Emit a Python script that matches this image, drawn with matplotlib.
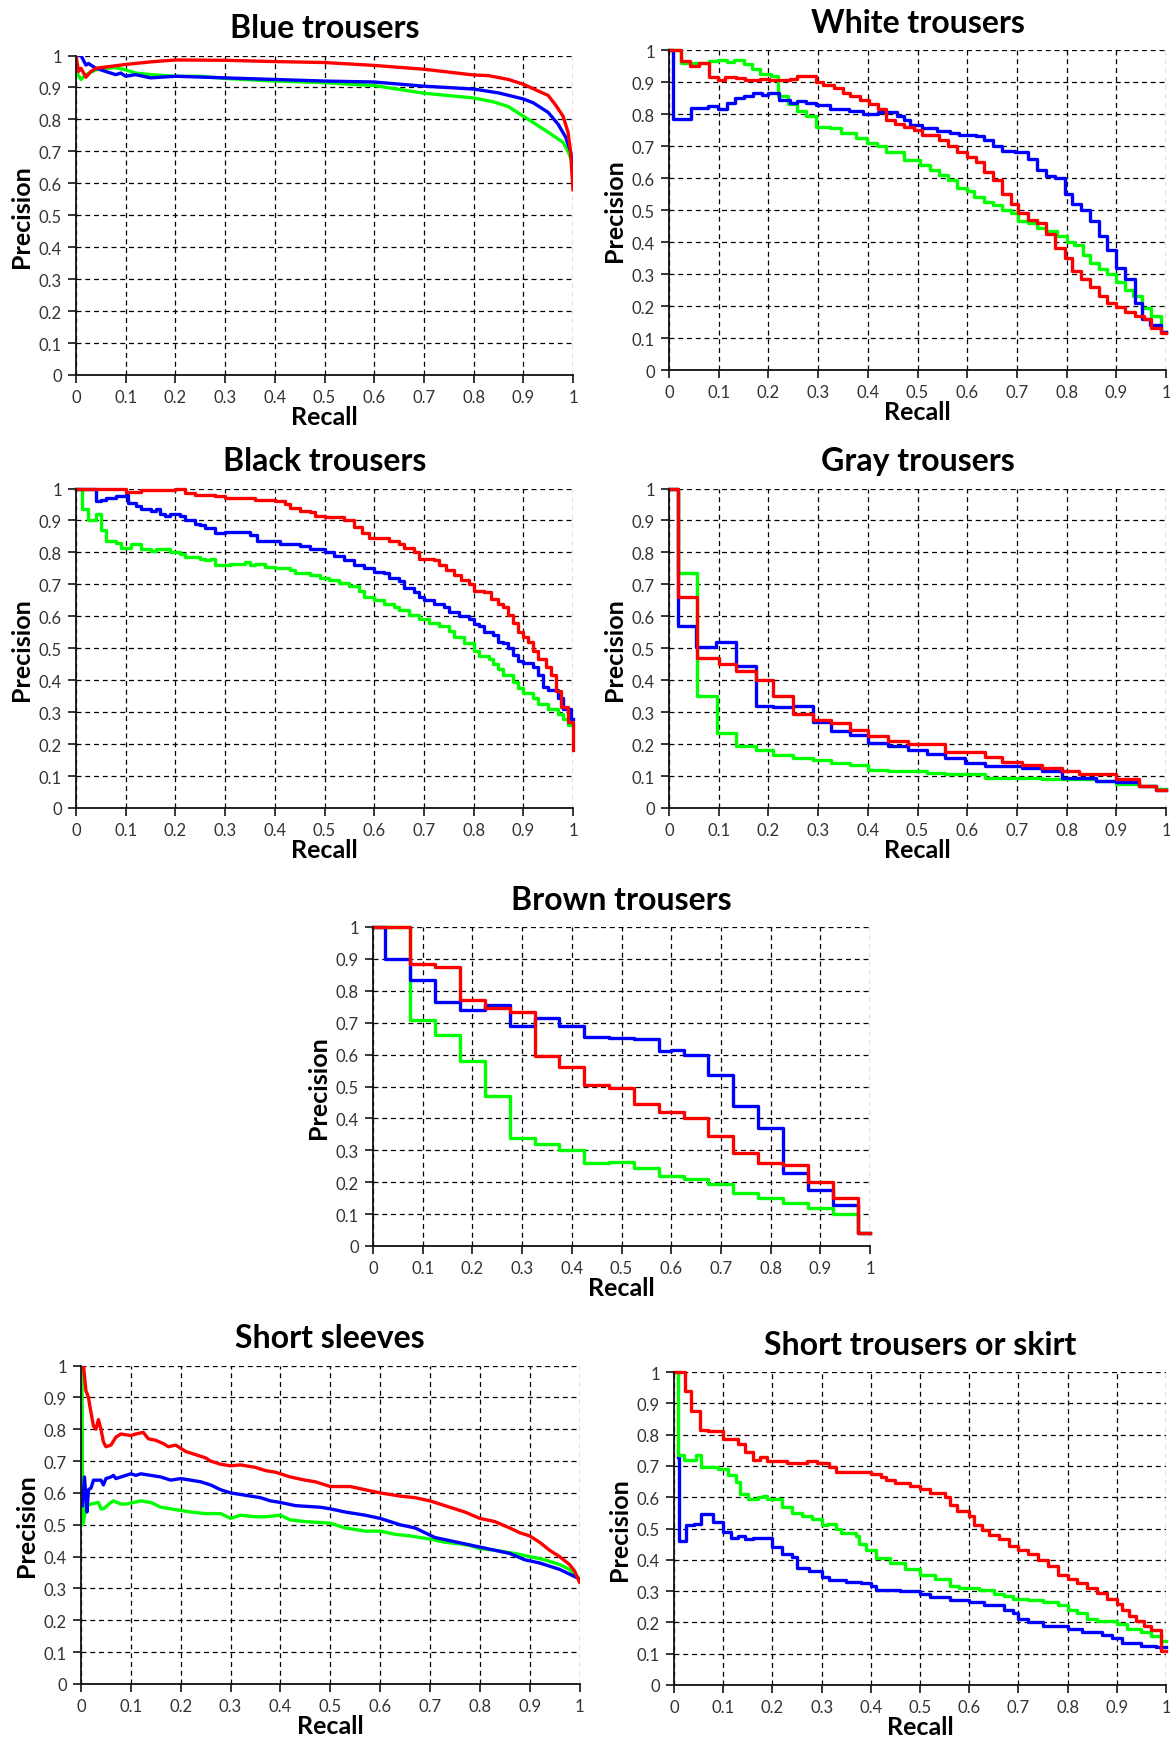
import numpy as np
import matplotlib
matplotlib.use("Agg")
import matplotlib.pyplot as plt

plt.rcParams['font.family'] = ['Lato', 'DejaVu Sans']

titles = ["Blue trousers", "White trousers", "Black trousers", "Gray trousers",
          "Brown trousers", "Short sleeves", "Short trousers or skirt"]
tick_vals = [0, 0.1, 0.2, 0.3, 0.4, 0.5, 0.6, 0.7, 0.8, 0.9, 1]
tick_labels = ["0", "0.1", "0.2", "0.3", "0.4", "0.5", "0.6", "0.7", "0.8", "0.9", "1"]

# ---------------- Blue trousers (smooth lines) ----------------
blue_tr_blue_x = [0, 0.01, 0.02, 0.025, 0.04, 0.06, 0.08, 0.09, 0.1, 0.12, 0.15, 0.2, 0.3, 0.4, 0.5, 0.6,
                  0.7, 0.8, 0.85, 0.9, 0.92, 0.95, 0.97, 0.985, 0.995, 1.0]
blue_tr_blue_y = [1.0, 1.0, 0.97, 0.975, 0.96, 0.95, 0.94, 0.945, 0.935, 0.94, 0.93, 0.935, 0.93, 0.925, 0.92, 0.917,
                  0.904, 0.895, 0.883, 0.864, 0.852, 0.822, 0.785, 0.745, 0.70, 0.65]
blue_tr_green_x = [0, 0.01, 0.02, 0.04, 0.06, 0.08, 0.1, 0.12, 0.15, 0.2, 0.25, 0.3, 0.4, 0.5, 0.6,
                   0.7, 0.8, 0.84, 0.87, 0.9, 0.93, 0.95, 0.98, 0.99, 1.0]
blue_tr_green_y = [0.95, 0.925, 0.94, 0.955, 0.96, 0.962, 0.955, 0.945, 0.94, 0.935, 0.935, 0.928, 0.92, 0.915, 0.906,
                   0.882, 0.867, 0.855, 0.84, 0.81, 0.78, 0.76, 0.728, 0.70, 0.66]
blue_tr_red_x = [0, 0.005, 0.01, 0.02, 0.03, 0.04, 0.1, 0.15, 0.2, 0.3, 0.4, 0.5, 0.6, 0.7, 0.8, 0.83,
                 0.87, 0.9, 0.94, 0.95, 0.965, 0.98, 0.99, 0.995, 1.0]
blue_tr_red_y = [1.0, 0.95, 0.96, 0.932, 0.95, 0.96, 0.972, 0.98, 0.986, 0.985, 0.981, 0.978, 0.969, 0.957, 0.939, 0.937,
                 0.925, 0.91, 0.882, 0.875, 0.845, 0.81, 0.76, 0.70, 0.58]

# ---------------- White trousers (steps) ----------------
white_blue_x = [0, 0.009, 0.044, 0.079, 0.098, 0.117, 0.133, 0.15, 0.169, 0.187, 0.2, 0.222, 0.243, 0.258, 0.276,
                0.295, 0.324, 0.362, 0.391, 0.421, 0.458, 0.473, 0.484, 0.51, 0.54, 0.566, 0.584, 0.618, 0.633,
                0.651, 0.67, 0.696, 0.722, 0.74, 0.759, 0.777, 0.796, 0.811, 0.829, 0.848, 0.866, 0.881, 0.9,
                0.918, 0.937, 0.952, 0.967, 0.989]
white_blue_y = [1.0, 0.785, 0.82, 0.825, 0.815, 0.835, 0.85, 0.855, 0.865, 0.86, 0.865, 0.845, 0.835, 0.84, 0.835,
                0.828, 0.815, 0.81, 0.80, 0.805, 0.795, 0.78, 0.765, 0.755, 0.748, 0.74, 0.735, 0.73, 0.72,
                0.70, 0.685, 0.68, 0.66, 0.625, 0.605, 0.60, 0.55, 0.52, 0.50, 0.465, 0.42, 0.375, 0.32,
                0.285, 0.21, 0.16, 0.14, 0.12]
white_green_x = [0, 0.024, 0.08, 0.098, 0.116, 0.131, 0.15, 0.168, 0.183, 0.206, 0.22, 0.239, 0.258, 0.276, 0.295,
                 0.324, 0.347, 0.376, 0.399, 0.418, 0.436, 0.473, 0.506, 0.525, 0.543, 0.562, 0.58, 0.599, 0.614,
                 0.633, 0.651, 0.67, 0.688, 0.703, 0.722, 0.74, 0.759, 0.781, 0.8, 0.814, 0.833, 0.848, 0.866,
                 0.881, 0.9, 0.918, 0.933, 0.952, 0.97, 0.989]
white_green_y = [1.0, 0.96, 0.965, 0.97, 0.963, 0.968, 0.955, 0.94, 0.925, 0.92, 0.855, 0.83, 0.81, 0.795, 0.76,
                 0.755, 0.74, 0.725, 0.71, 0.70, 0.68, 0.655, 0.64, 0.625, 0.61, 0.595, 0.57, 0.56, 0.54,
                 0.525, 0.515, 0.50, 0.49, 0.465, 0.46, 0.445, 0.435, 0.42, 0.40, 0.39, 0.36, 0.335, 0.315,
                 0.30, 0.275, 0.25, 0.23, 0.195, 0.17, 0.12]
white_red_x = [0, 0.024, 0.042, 0.061, 0.08, 0.098, 0.113, 0.135, 0.153, 0.183, 0.202, 0.243, 0.258, 0.295, 0.31,
               0.332, 0.35, 0.365, 0.384, 0.403, 0.421, 0.436, 0.454, 0.473, 0.492, 0.51, 0.543, 0.562, 0.58,
               0.599, 0.618, 0.633, 0.651, 0.67, 0.688, 0.703, 0.722, 0.74, 0.759, 0.777, 0.796, 0.811, 0.829,
               0.848, 0.866, 0.881, 0.9, 0.918, 0.937, 0.955, 0.97, 0.989]
white_red_y = [1.0, 0.965, 0.95, 0.96, 0.915, 0.905, 0.915, 0.912, 0.905, 0.91, 0.905, 0.91, 0.918, 0.90, 0.89,
               0.88, 0.865, 0.855, 0.845, 0.83, 0.815, 0.78, 0.77, 0.76, 0.75, 0.735, 0.72, 0.70, 0.68,
               0.665, 0.65, 0.62, 0.595, 0.55, 0.52, 0.49, 0.47, 0.46, 0.425, 0.38, 0.35, 0.31, 0.285,
               0.26, 0.23, 0.21, 0.198, 0.18, 0.17, 0.16, 0.13, 0.115]

# ---------------- Black trousers (steps) ----------------
black_red_x = [0, 0.1, 0.13, 0.2, 0.22, 0.24, 0.28, 0.3, 0.36, 0.4, 0.42, 0.43, 0.45, 0.47, 0.48, 0.5, 0.54, 0.56,
               0.575, 0.59, 0.63, 0.65, 0.66, 0.68, 0.69, 0.72, 0.73, 0.745, 0.76, 0.775, 0.79, 0.80, 0.82, 0.835,
               0.85, 0.86, 0.87, 0.88, 0.89, 0.9, 0.91, 0.92, 0.93, 0.945, 0.955, 0.965, 0.975, 0.99]
black_red_y = [1.0, 0.99, 0.995, 0.997, 0.985, 0.98, 0.975, 0.97, 0.965, 0.96, 0.95, 0.94, 0.93, 0.925, 0.915, 0.91,
               0.90, 0.88, 0.86, 0.845, 0.835, 0.825, 0.815, 0.80, 0.78, 0.775, 0.76, 0.745, 0.73, 0.715, 0.70,
               0.68, 0.675, 0.655, 0.64, 0.63, 0.605, 0.58, 0.55, 0.535, 0.52, 0.49, 0.465, 0.44, 0.415, 0.365,
               0.315, 0.27]
black_red_end = 0.18
black_blue_x = [0, 0.04, 0.05, 0.06, 0.08, 0.1, 0.105, 0.12, 0.13, 0.15, 0.16, 0.17, 0.18, 0.19, 0.21, 0.22, 0.24,
                0.25, 0.26, 0.28, 0.3, 0.33, 0.35, 0.365, 0.41, 0.45, 0.47, 0.5, 0.52, 0.54, 0.56, 0.58, 0.6,
                0.62, 0.63, 0.65, 0.66, 0.68, 0.69, 0.7, 0.72, 0.74, 0.75, 0.77, 0.79, 0.8, 0.81, 0.82, 0.84,
                0.85, 0.86, 0.87, 0.88, 0.89, 0.9, 0.92, 0.93, 0.94, 0.95, 0.97, 0.98, 0.995]
black_blue_y = [1.0, 0.96, 0.965, 0.97, 0.975, 0.98, 0.955, 0.945, 0.935, 0.93, 0.935, 0.92, 0.915, 0.92, 0.915, 0.90,
                0.89, 0.885, 0.875, 0.86, 0.865, 0.865, 0.855, 0.835, 0.825, 0.82, 0.81, 0.80, 0.79, 0.775,
                0.76, 0.75, 0.74, 0.735, 0.72, 0.71, 0.69, 0.675, 0.66, 0.65, 0.64, 0.63, 0.615, 0.60, 0.59,
                0.575, 0.57, 0.55, 0.54, 0.52, 0.515, 0.50, 0.48, 0.46, 0.455, 0.44, 0.415, 0.38, 0.37, 0.345,
                0.31, 0.28]
black_green_x = [0, 0.012, 0.025, 0.04, 0.05, 0.06, 0.08, 0.09, 0.11, 0.13, 0.15, 0.16, 0.19, 0.21, 0.22, 0.25,
                 0.26, 0.27, 0.28, 0.31, 0.34, 0.35, 0.36, 0.38, 0.4, 0.43, 0.44, 0.47, 0.49, 0.51, 0.53, 0.55,
                 0.57, 0.58, 0.6, 0.62, 0.64, 0.65, 0.67, 0.69, 0.71, 0.73, 0.75, 0.76, 0.78, 0.8, 0.81, 0.83,
                 0.84, 0.85, 0.86, 0.88, 0.89, 0.9, 0.92, 0.93, 0.95, 0.97, 0.98, 0.99]
black_green_y = [1.0, 0.935, 0.90, 0.92, 0.87, 0.835, 0.83, 0.815, 0.825, 0.81, 0.805, 0.81, 0.80, 0.795, 0.785,
                 0.78, 0.775, 0.78, 0.76, 0.765, 0.77, 0.76, 0.765, 0.755, 0.75, 0.745, 0.735, 0.73, 0.72, 0.715,
                 0.705, 0.695, 0.68, 0.66, 0.65, 0.64, 0.63, 0.62, 0.605, 0.59, 0.58, 0.57, 0.555, 0.535, 0.515,
                 0.49, 0.475, 0.465, 0.45, 0.435, 0.415, 0.395, 0.375, 0.36, 0.345, 0.325, 0.31, 0.295, 0.28, 0.26]

# ---------------- Gray trousers (steps) ----------------
gray_red_x = [0, 0.018, 0.057, 0.1, 0.135, 0.175, 0.21, 0.25, 0.29, 0.325, 0.365, 0.40, 0.44, 0.48, 0.555, 0.635,
              0.67, 0.71, 0.75, 0.79, 0.825, 0.90, 0.945, 0.98]
gray_red_y = [1.0, 0.66, 0.47, 0.45, 0.43, 0.40, 0.35, 0.295, 0.275, 0.265, 0.245, 0.225, 0.21, 0.20, 0.175, 0.16,
              0.145, 0.135, 0.125, 0.115, 0.105, 0.09, 0.07, 0.055]
gray_blue_x = [0, 0.018, 0.055, 0.095, 0.135, 0.175, 0.21, 0.25, 0.29, 0.325, 0.365, 0.40, 0.44, 0.48, 0.52, 0.555,
               0.595, 0.635, 0.71, 0.75, 0.79, 0.86, 0.90, 0.945, 0.98]
gray_blue_y = [1.0, 0.57, 0.505, 0.52, 0.445, 0.32, 0.315, 0.32, 0.27, 0.24, 0.23, 0.205, 0.195, 0.18, 0.17, 0.155,
               0.14, 0.13, 0.125, 0.115, 0.095, 0.085, 0.08, 0.07, 0.055]
gray_green_x = [0, 0.018, 0.057, 0.097, 0.135, 0.175, 0.21, 0.25, 0.29, 0.325, 0.365, 0.40, 0.44, 0.52, 0.555,
                0.635, 0.75, 0.86, 0.90, 0.945, 0.98]
gray_green_y = [1.0, 0.735, 0.35, 0.235, 0.195, 0.18, 0.165, 0.155, 0.15, 0.14, 0.135, 0.12, 0.115, 0.11, 0.105,
                0.095, 0.09, 0.085, 0.075, 0.07, 0.06]

# ---------------- Brown trousers (steps) ----------------
brown_blue_x = [0, 0.025, 0.075, 0.125, 0.175, 0.225, 0.275, 0.325, 0.375, 0.425, 0.475, 0.525, 0.575, 0.6, 0.625,
                0.675, 0.725, 0.775, 0.825, 0.875, 0.925, 0.975]
brown_blue_y = [1.0, 0.90, 0.835, 0.765, 0.74, 0.755, 0.69, 0.715, 0.69, 0.655, 0.652, 0.65, 0.61, 0.615, 0.60,
                0.535, 0.44, 0.37, 0.23, 0.175, 0.13, 0.04]
brown_red_x = [0, 0.075, 0.125, 0.175, 0.225, 0.275, 0.325, 0.375, 0.425, 0.475, 0.525, 0.575, 0.625, 0.675, 0.725,
               0.775, 0.825, 0.875, 0.925, 0.975]
brown_red_y = [1.0, 0.885, 0.875, 0.77, 0.745, 0.735, 0.595, 0.56, 0.505, 0.495, 0.445, 0.42, 0.40, 0.345, 0.29,
               0.26, 0.255, 0.20, 0.15, 0.04]
brown_green_x = [0, 0.075, 0.125, 0.175, 0.225, 0.275, 0.325, 0.375, 0.425, 0.475, 0.525, 0.575, 0.625, 0.675,
                 0.725, 0.775, 0.825, 0.875, 0.925, 0.975]
brown_green_y = [1.0, 0.71, 0.66, 0.58, 0.47, 0.34, 0.32, 0.30, 0.26, 0.262, 0.245, 0.22, 0.21, 0.195, 0.165, 0.15,
                 0.135, 0.12, 0.10, 0.04]

# ---------------- Short sleeves (smooth lines) ----------------
sleeves_red_x = [0.005, 0.008, 0.01, 0.015, 0.018, 0.025, 0.03, 0.035, 0.04, 0.045, 0.05, 0.06, 0.07, 0.08, 0.1,
                 0.11, 0.125, 0.135, 0.15, 0.165, 0.175, 0.19, 0.2, 0.21, 0.23, 0.25, 0.26, 0.28, 0.3, 0.32, 0.35,
                 0.37, 0.39, 0.4, 0.42, 0.45, 0.47, 0.5, 0.54, 0.57, 0.6, 0.62, 0.64, 0.67, 0.7, 0.72, 0.74, 0.77,
                 0.8, 0.83, 0.86, 0.88, 0.9, 0.92, 0.94, 0.96, 0.98, 0.99, 1.0]
sleeves_red_y = [1.0, 0.95, 0.92, 0.9, 0.87, 0.81, 0.80, 0.83, 0.80, 0.76, 0.745, 0.75, 0.775, 0.785, 0.78,
                 0.785, 0.79, 0.77, 0.765, 0.755, 0.745, 0.75, 0.74, 0.73, 0.72, 0.71, 0.70, 0.69, 0.685, 0.688, 0.68,
                 0.67, 0.665, 0.66, 0.65, 0.64, 0.635, 0.62, 0.62, 0.61, 0.60, 0.595, 0.59, 0.585, 0.575, 0.565,
                 0.555, 0.54, 0.52, 0.51, 0.49, 0.475, 0.465, 0.445, 0.42, 0.40, 0.375, 0.355, 0.32]
sleeves_blue_x = [0.003, 0.007, 0.012, 0.015, 0.02, 0.025, 0.04, 0.045, 0.05, 0.06, 0.065, 0.07, 0.08, 0.1, 0.11,
                  0.12, 0.14, 0.16, 0.18, 0.2, 0.22, 0.24, 0.26, 0.28, 0.3, 0.32, 0.36, 0.38, 0.4, 0.43, 0.48,
                  0.5, 0.53, 0.57, 0.6, 0.62, 0.64, 0.67, 0.69, 0.71, 0.74, 0.77, 0.8, 0.83, 0.86, 0.89, 0.92,
                  0.94, 0.96, 0.98, 1.0]
sleeves_blue_y = [0.56, 0.65, 0.54, 0.61, 0.615, 0.64, 0.64, 0.625, 0.645, 0.65, 0.655, 0.645, 0.65, 0.66, 0.655,
                  0.66, 0.655, 0.65, 0.64, 0.645, 0.64, 0.635, 0.625, 0.61, 0.60, 0.595, 0.585, 0.575, 0.57, 0.56,
                  0.555, 0.55, 0.54, 0.53, 0.52, 0.51, 0.50, 0.49, 0.475, 0.46, 0.45, 0.44, 0.43, 0.42, 0.41,
                  0.39, 0.38, 0.37, 0.36, 0.345, 0.33]
sleeves_green_x = [0.002, 0.003, 0.005, 0.01, 0.02, 0.035, 0.04, 0.045, 0.06, 0.065, 0.08, 0.09, 0.12, 0.14, 0.16,
                   0.18, 0.2, 0.22, 0.25, 0.28, 0.3, 0.32, 0.35, 0.37, 0.4, 0.42, 0.45, 0.5, 0.53, 0.57, 0.6, 0.63,
                   0.66, 0.7, 0.73, 0.76, 0.78, 0.8, 0.83, 0.87, 0.9, 0.93, 0.96, 0.98, 1.0]
sleeves_green_y = [1.0, 0.5, 0.51, 0.56, 0.565, 0.57, 0.55, 0.55, 0.57, 0.575, 0.565, 0.565, 0.575, 0.57, 0.555,
                   0.55, 0.545, 0.54, 0.535, 0.535, 0.52, 0.53, 0.525, 0.525, 0.53, 0.515, 0.51, 0.505, 0.49, 0.48,
                   0.48, 0.47, 0.465, 0.455, 0.445, 0.44, 0.435, 0.425, 0.42, 0.41, 0.40, 0.39, 0.375, 0.36, 0.33]

# ---------------- Short trousers or skirt (steps) ----------------
skirt_red_x = [0, 0.023, 0.035, 0.052, 0.07, 0.1, 0.13, 0.145, 0.16, 0.175, 0.19, 0.23, 0.27, 0.29, 0.315, 0.33,
               0.35, 0.4, 0.42, 0.43, 0.45, 0.48, 0.5, 0.52, 0.55, 0.56, 0.575, 0.6, 0.61, 0.625, 0.64, 0.66, 0.68,
               0.7, 0.72, 0.74, 0.76, 0.78, 0.8, 0.82, 0.84, 0.86, 0.88, 0.9, 0.91, 0.925, 0.94, 0.955, 0.97, 0.99]
skirt_red_y = [1.0, 0.94, 0.875, 0.815, 0.81, 0.785, 0.77, 0.745, 0.72, 0.73, 0.715, 0.71, 0.715, 0.71, 0.695, 0.68,
               0.68, 0.675, 0.665, 0.655, 0.645, 0.635, 0.625, 0.615, 0.60, 0.575, 0.555, 0.54, 0.51, 0.495, 0.48,
               0.465, 0.445, 0.43, 0.42, 0.40, 0.38, 0.35, 0.34, 0.325, 0.31, 0.295, 0.275, 0.26, 0.24, 0.22,
               0.205, 0.19, 0.175, 0.11]
skirt_green_x = [0.005, 0.008, 0.02, 0.045, 0.055, 0.09, 0.11, 0.125, 0.135, 0.15, 0.17, 0.18, 0.19, 0.22, 0.24,
                 0.26, 0.28, 0.3, 0.31, 0.33, 0.34, 0.37, 0.375, 0.39, 0.41, 0.44, 0.47, 0.5, 0.53, 0.56, 0.58, 0.62,
                 0.65, 0.67, 0.69, 0.72, 0.75, 0.78, 0.8, 0.82, 0.84, 0.86, 0.9, 0.92, 0.95, 0.97, 0.99]
skirt_green_y = [1.0, 0.735, 0.72, 0.735, 0.695, 0.69, 0.67, 0.65, 0.61, 0.595, 0.60, 0.605, 0.595, 0.57, 0.55,
                 0.54, 0.53, 0.51, 0.515, 0.50, 0.485, 0.475, 0.45, 0.43, 0.405, 0.39, 0.37, 0.35, 0.34, 0.315, 0.31,
                 0.305, 0.29, 0.285, 0.275, 0.27, 0.265, 0.255, 0.24, 0.23, 0.21, 0.205, 0.195, 0.18, 0.17, 0.155,
                 0.14]
skirt_blue_x = [0.008, 0.01, 0.025, 0.04, 0.055, 0.08, 0.1, 0.115, 0.13, 0.145, 0.16, 0.2, 0.22, 0.24, 0.25, 0.275,
                0.3, 0.315, 0.35, 0.38, 0.4, 0.41, 0.46, 0.5, 0.52, 0.56, 0.6, 0.63, 0.67, 0.69, 0.7, 0.72, 0.75,
                0.8, 0.83, 0.87, 0.89, 0.91, 0.95, 0.98]
skirt_blue_y = [0.73, 0.46, 0.51, 0.515, 0.545, 0.52, 0.49, 0.47, 0.475, 0.465, 0.47, 0.44, 0.42, 0.41, 0.375, 0.365,
                0.345, 0.335, 0.33, 0.325, 0.315, 0.305, 0.30, 0.29, 0.28, 0.27, 0.265, 0.255, 0.24, 0.23, 0.21,
                0.20, 0.19, 0.18, 0.17, 0.16, 0.15, 0.135, 0.125, 0.12]

BLUE, GREEN, RED = "#0000ff", "#00ff00", "#ff0000"
LW = 2.4

fig = plt.figure(figsize=(11.7, 17.4), dpi=100)

W, H = 1170.0, 1740.0
def box(x0, x1, ytop, ybot):
    return [x0 / W, 1 - ybot / H, (x1 - x0) / W, (ybot - ytop) / H]

rects = [box(76, 573, 56.5, 376), box(669, 1166, 51, 371),
         box(76, 573, 489.5, 809), box(669, 1166, 489.5, 809),
         box(373, 870, 928, 1247),
         box(81, 579.5, 1366.5, 1685), box(674, 1166, 1373, 1686)]

def style(ax, title):
    ax.set_xlim(0, 1)
    ax.set_ylim(0, 1)
    ax.set_xticks(tick_vals)
    ax.set_xticklabels(tick_labels)
    ax.set_yticks(tick_vals)
    ax.set_yticklabels(tick_labels)
    ax.grid(True, color="black", linestyle=(0, (4, 3)), linewidth=0.9)
    ax.set_axisbelow(True)
    for s in ["top", "right"]:
        ax.spines[s].set_visible(False)
    for s in ["left", "bottom"]:
        ax.spines[s].set_color("#111111")
        ax.spines[s].set_linewidth(1.3)
    ax.tick_params(direction="out", length=6, width=1.1, colors="black",
                   labelsize=12, labelcolor="#333333", pad=4)
    ax.set_xlabel("Recall", fontsize=18, fontweight="bold", labelpad=0)
    ax.set_ylabel("Precision", fontsize=18, fontweight="bold", labelpad=4)
    ax.set_title(title, fontsize=23, fontweight="bold", pad=13)

def steps(ax, x, y, color, end=None):
    xs = list(x) + [1.0]
    ys = list(y) + [y[-1] if end is None else end]
    ax.step(xs, ys, where="post", color=color, linewidth=LW, clip_on=False)

axes = [fig.add_axes(r) for r in rects]

ax = axes[0]
ax.plot(blue_tr_green_x, blue_tr_green_y, color=GREEN, linewidth=LW)
ax.plot(blue_tr_blue_x, blue_tr_blue_y, color=BLUE, linewidth=LW)
ax.plot(blue_tr_red_x, blue_tr_red_y, color=RED, linewidth=LW)

ax = axes[1]
steps(ax, white_green_x, white_green_y, GREEN)
steps(ax, white_blue_x, white_blue_y, BLUE)
steps(ax, white_red_x, white_red_y, RED)

ax = axes[2]
steps(ax, black_green_x, black_green_y, GREEN)
steps(ax, black_blue_x, black_blue_y, BLUE)
steps(ax, black_red_x, black_red_y, RED, end=black_red_end)

ax = axes[3]
steps(ax, gray_green_x, gray_green_y, GREEN)
steps(ax, gray_blue_x, gray_blue_y, BLUE)
steps(ax, gray_red_x, gray_red_y, RED)

ax = axes[4]
steps(ax, brown_green_x, brown_green_y, GREEN)
steps(ax, brown_blue_x, brown_blue_y, BLUE)
steps(ax, brown_red_x, brown_red_y, RED)

ax = axes[5]
ax.plot(sleeves_green_x, sleeves_green_y, color=GREEN, linewidth=LW)
ax.plot(sleeves_blue_x, sleeves_blue_y, color=BLUE, linewidth=LW)
ax.plot(sleeves_red_x, sleeves_red_y, color=RED, linewidth=LW)

ax = axes[6]
steps(ax, skirt_blue_x, skirt_blue_y, BLUE)
steps(ax, skirt_green_x, skirt_green_y, GREEN)
steps(ax, skirt_red_x, skirt_red_y, RED)

for ax, t in zip(axes, titles):
    style(ax, t)

fig.savefig("out.png", dpi=100)
